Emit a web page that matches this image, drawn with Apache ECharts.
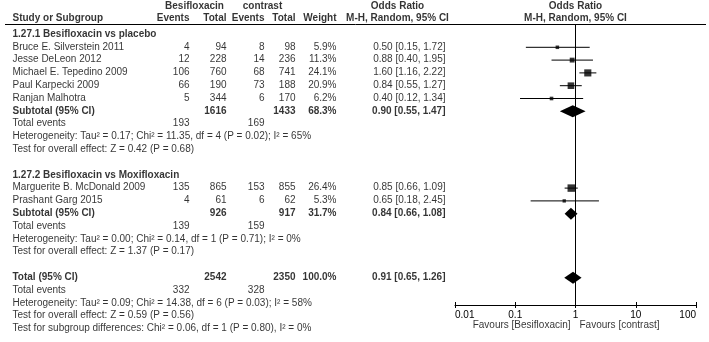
<!DOCTYPE html>
<html>
<head>
<meta charset="utf-8">
<script src="https://cdn.jsdelivr.net/npm/echarts@6/dist/echarts.min.js"></script>
<style>
  html, body { margin: 0; padding: 0; background: #fff; }
  #chart { width: 709px; height: 342px; }
</style>
</head>
<body>
<div id="chart"></div>
<script>
// study level data
const studies = ['Bruce E. Silverstein 2011', 'Jesse DeLeon 2012', 'Michael E. Tepedino 2009', 'Paul Karpecki 2009', 'Ranjan Malhotra', 'Marguerite B. McDonald 2009', 'Prashant Garg 2015']
const studyGroup = [0, 0, 0, 0, 0, 1, 1]
const besiEvents = [4, 12, 106, 66, 5, 135, 4]
const besiTotal = [94, 228, 760, 190, 344, 865, 61]
const ctrlEvents = [8, 14, 68, 73, 6, 153, 6]
const ctrlTotal = [98, 236, 741, 188, 170, 855, 62]
const weights = [5.9, 11.3, 24.1, 20.9, 6.2, 26.4, 5.3]
const orEst = [0.50, 0.88, 1.60, 0.84, 0.40, 0.85, 0.65]
const orLow = [0.15, 0.40, 1.16, 0.55, 0.12, 0.66, 0.18]
const orHigh = [1.72, 1.95, 2.22, 1.27, 1.34, 1.09, 2.45]

// subgroup data
const groupNames = ['1.27.1 Besifloxacin vs placebo', '1.27.2 Besifloxacin vs Moxifloxacin']
const subBesiTotal = [1616, 926]
const subCtrlTotal = [1433, 917]
const subWeight = [68.3, 31.7]
const subEst = [0.90, 0.84]
const subLow = [0.55, 0.66]
const subHigh = [1.47, 1.08]
const subBesiEvents = [193, 139]
const subCtrlEvents = [169, 159]
const subHetero = [
  'Heterogeneity: Tau² = 0.17; Chi² = 11.35, df = 4 (P = 0.02); I² = 65%',
  'Heterogeneity: Tau² = 0.00; Chi² = 0.14, df = 1 (P = 0.71); I² = 0%'
]
const subEffect = ['Test for overall effect: Z = 0.42 (P = 0.68)', 'Test for overall effect: Z = 1.37 (P = 0.17)']

// overall
const totalBesi = 2542
const totalCtrl = 2350
const totalWeight = 100.0
const totalEst = 0.91
const totalLow = 0.65
const totalHigh = 1.26
const totalBesiEvents = 332
const totalCtrlEvents = 328
const totalHetero = 'Heterogeneity: Tau² = 0.09; Chi² = 14.38, df = 6 (P = 0.03); I² = 58%'
const totalEffect = 'Test for overall effect: Z = 0.59 (P = 0.56)'
const subgroupTest = 'Test for subgroup differences: Chi² = 0.06, df = 1 (P = 0.80), I² = 0%'

const tickLabels = ['0.01', '0.1', '1', '10', '100']

const FONT = 'Liberation Sans, Arial, sans-serif'
const ROW0 = 34.5
const ROWH = 12.8
const pxRow = px => (px - ROW0) / ROWH

// column anchors (x in px)
const COL = { name: 13, bE: 190, bT: 227, cE: 265, cT: 296, w: 337, or: 446 }

const fmtOR = (e, l, h) => `${e.toFixed(2)} [${l.toFixed(2)}, ${h.toFixed(2)}]`
const fmtW = w => w.toFixed(1) + '%'

const cells = []
const cell = (x, row, text, align, bold) => {
  cells.push({
    value: [x, row],
    label: { formatter: String(text), align: align, fontWeight: bold ? 'bold' : 'normal' }
  })
}

// header
cell(195, pxRow(7), 'Besifloxacin', 'center', true)
cell(263, pxRow(7), 'contrast', 'center', true)
cell(398, pxRow(7), 'Odds Ratio', 'center', true)
cell(576, pxRow(7), 'Odds Ratio', 'center', true)
cell(COL.name, pxRow(19), 'Study or Subgroup', 'left', true)
cell(COL.bE, pxRow(19), 'Events', 'right', true)
cell(COL.bT, pxRow(19), 'Total', 'right', true)
cell(COL.cE, pxRow(19), 'Events', 'right', true)
cell(COL.cT, pxRow(19), 'Total', 'right', true)
cell(COL.w, pxRow(19), 'Weight', 'right', true)
cell(398, pxRow(19), 'M-H, Random, 95% CI', 'center', true)
cell(576, pxRow(19), 'M-H, Random, 95% CI', 'center', true)

const ciData = []
const squareData = []
const diamondData = []

let row = 0
groupNames.forEach((g, gi) => {
  cell(COL.name, row, g, 'left', true)
  row++
  studies.forEach((s, i) => {
    if (studyGroup[i] !== gi) return
    cell(COL.name, row, s, 'left')
    cell(COL.bE, row, besiEvents[i], 'right')
    cell(COL.bT, row, besiTotal[i], 'right')
    cell(COL.cE, row, ctrlEvents[i], 'right')
    cell(COL.cT, row, ctrlTotal[i], 'right')
    cell(COL.w, row, fmtW(weights[i]), 'right')
    cell(COL.or, row, fmtOR(orEst[i], orLow[i], orHigh[i]), 'right')
    ciData.push([orLow[i], orHigh[i], row])
    squareData.push([orEst[i], row, weights[i]])
    row++
  })
  cell(COL.name, row, 'Subtotal (95% CI)', 'left', true)
  cell(COL.bT, row, subBesiTotal[gi], 'right', true)
  cell(COL.cT, row, subCtrlTotal[gi], 'right', true)
  cell(COL.w, row, fmtW(subWeight[gi]), 'right', true)
  cell(COL.or, row, fmtOR(subEst[gi], subLow[gi], subHigh[gi]), 'right', true)
  diamondData.push([subLow[gi], subHigh[gi], row, subEst[gi]])
  row++
  cell(COL.name, row, 'Total events', 'left')
  cell(COL.bE, row, subBesiEvents[gi], 'right')
  cell(COL.cE, row, subCtrlEvents[gi], 'right')
  row++
  cell(COL.name, row, subHetero[gi], 'left')
  row++
  cell(COL.name, row, subEffect[gi], 'left')
  row += 2
})

cell(COL.name, row, 'Total (95% CI)', 'left', true)
cell(COL.bT, row, totalBesi, 'right', true)
cell(COL.cT, row, totalCtrl, 'right', true)
cell(COL.w, row, fmtW(totalWeight), 'right', true)
cell(COL.or, row, fmtOR(totalEst, totalLow, totalHigh), 'right', true)
diamondData.push([totalLow, totalHigh, row, totalEst])
row++
cell(COL.name, row, 'Total events', 'left')
cell(COL.bE, row, totalBesiEvents, 'right')
cell(COL.cE, row, totalCtrlEvents, 'right')
row++
cell(COL.name, row, totalHetero, 'left')
row++
cell(COL.name, row, totalEffect, 'left')
row++
cell(COL.name, row, subgroupTest, 'left')

// favours labels under the axis
cell(571, pxRow(326), 'Favours [Besifloxacin]', 'right')
cell(580, pxRow(326), 'Favours [contrast]', 'left')

const chart = echarts.init(document.getElementById('chart'))

const logAxis = {
  gridIndex: 1,
  type: 'log',
  logBase: 10,
  min: 0.01,
  max: 100,
  position: 'bottom',
  splitLine: { show: false }
}

const option = {
  animation: false,
  textStyle: { fontFamily: FONT },
  grid: [
    { left: 0, right: 0, top: 0, bottom: 0 },
    { left: 455, right: 13, top: 24, bottom: 37 }
  ],
  xAxis: [
    { gridIndex: 0, type: 'value', min: 0, max: 709, show: false },
    Object.assign({}, logAxis, {
      axisLine: { onZero: false, lineStyle: { color: '#000', width: 1 } },
      axisTick: { length: 3, lineStyle: { color: '#000' } },
      axisLabel: {
        color: '#000',
        fontSize: 10,
        fontFamily: FONT,
        margin: 5,
        alignMinLabel: 'left',
        alignMaxLabel: 'right',
        formatter: v => tickLabels[Math.round(Math.log10(v)) + 2]
      }
    }),
    // second copy of the axis only for the upward half of the ticks
    Object.assign({}, logAxis, {
      axisLine: { onZero: false, show: false },
      axisTick: { inside: true, length: 3, lineStyle: { color: '#000' } },
      axisLabel: { show: false }
    })
  ],
  yAxis: [
    { gridIndex: 0, type: 'value', inverse: true, min: pxRow(0), max: pxRow(342), show: false },
    { gridIndex: 1, type: 'value', inverse: true, min: pxRow(24), max: pxRow(305), show: false }
  ],
  graphic: [
    { type: 'line', shape: { x1: 5, y1: 24.5, x2: 706, y2: 24.5 }, style: { stroke: '#000', lineWidth: 1 } }
  ],
  series: [
    {
      name: 'table',
      type: 'scatter',
      xAxisIndex: 0,
      yAxisIndex: 0,
      symbolSize: 1,
      itemStyle: { color: 'transparent' },
      silent: true,
      label: {
        show: true,
        position: [0, 0],
        verticalAlign: 'middle',
        color: '#000',
        fontSize: 10,
        fontFamily: FONT
      },
      data: cells
    },
    {
      name: 'ci',
      type: 'custom',
      xAxisIndex: 1,
      yAxisIndex: 1,
      silent: true,
      encode: { x: [0, 1], y: 2 },
      renderItem: (params, api) => {
        const a = api.coord([api.value(0), api.value(2)])
        const b = api.coord([api.value(1), api.value(2)])
        return {
          type: 'line',
          shape: { x1: a[0], y1: a[1], x2: b[0], y2: b[1] },
          style: { stroke: '#000', lineWidth: 1 }
        }
      },
      data: ciData,
      markLine: {
        silent: true,
        symbol: 'none',
        label: { show: false },
        lineStyle: { color: '#000', width: 1, type: 'solid' },
        data: [{ xAxis: 1 }]
      }
    },
    {
      name: 'estimate',
      type: 'scatter',
      xAxisIndex: 1,
      yAxisIndex: 1,
      silent: true,
      symbol: 'rect',
      symbolSize: v => 1.45 * Math.sqrt(v[2]),
      itemStyle: { color: '#000' },
      data: squareData
    },
    {
      name: 'pooled',
      type: 'custom',
      xAxisIndex: 1,
      yAxisIndex: 1,
      silent: true,
      encode: { x: [0, 1, 3], y: 2 },
      renderItem: (params, api) => {
        const l = api.coord([api.value(0), api.value(2)])
        const h = api.coord([api.value(1), api.value(2)])
        const m = api.coord([api.value(3), api.value(2)])
        return {
          type: 'polygon',
          shape: { points: [[l[0], m[1]], [m[0], m[1] - 6], [h[0], m[1]], [m[0], m[1] + 6]] },
          style: { fill: '#000' }
        }
      },
      data: diamondData
    }
  ]
}

chart.setOption(option)
</script>
</body>
</html>
